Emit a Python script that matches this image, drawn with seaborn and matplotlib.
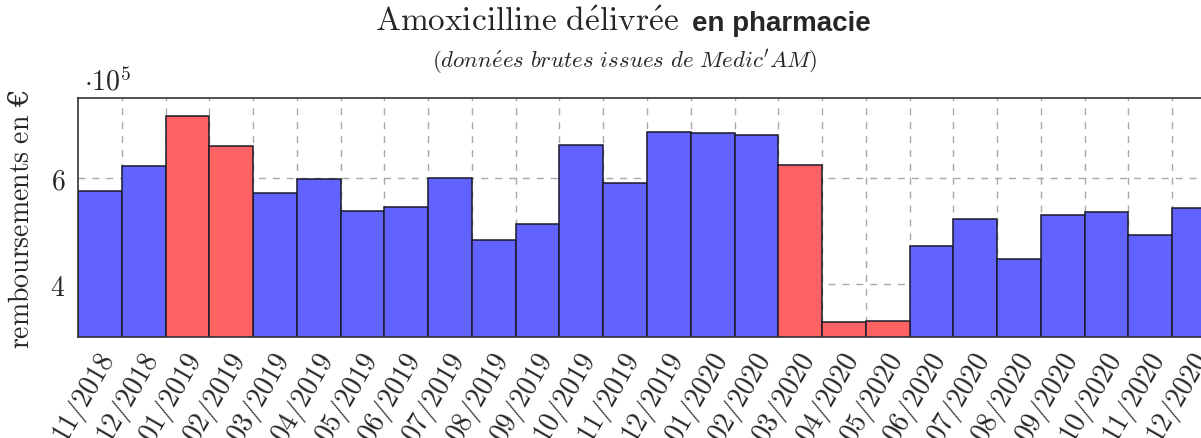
import matplotlib
matplotlib.use("Agg")
import matplotlib.pyplot as plt
import seaborn as sns
import pandas as pd

# Données (remboursements mensuels, en euros)
mois = ["11/2018", "12/2018", "01/2019", "02/2019", "03/2019", "04/2019", "05/2019",
        "06/2019", "07/2019", "08/2019", "09/2019", "10/2019", "11/2019", "12/2019",
        "01/2020", "02/2020", "03/2020", "04/2020", "05/2020", "06/2020", "07/2020",
        "08/2020", "09/2020", "10/2020", "11/2020", "12/2020"]
montants = [5.76e5, 6.22e5, 7.17e5, 6.60e5, 5.72e5, 5.98e5, 5.38e5,
            5.45e5, 5.99e5, 4.83e5, 5.14e5, 6.63e5, 5.90e5, 6.86e5,
            6.84e5, 6.81e5, 6.25e5, 3.29e5, 3.30e5, 4.71e5, 5.23e5,
            4.48e5, 5.31e5, 5.35e5, 4.92e5, 5.43e5]
mois_rouges = ["01/2019", "02/2019", "03/2020", "04/2020", "05/2020"]

df = pd.DataFrame({"mois": mois, "montant": montants})
df["groupe"] = ["rouge" if m in mois_rouges else "bleu" for m in df["mois"]]

sns.set_style("white")
plt.rcParams["mathtext.fontset"] = "cm"

fig = plt.figure(figsize=(12.01, 4.39), dpi=100)
ax = fig.add_axes([78 / 1201, 1 - 338.3 / 439, 1138 / 1201, 239 / 439])

sns.barplot(data=df, x="mois", y="montant", hue="groupe",
            palette={"bleu": "#6262ff", "rouge": "#ff6262"}, saturation=1,
            dodge=False, width=1, edgecolor="#1a1a2a", linewidth=1.1,
            legend=False, ax=ax, zorder=2)

ax.set_xlim(-0.5, len(mois) - 0.5)
ax.set_ylim(3e5, 7.5e5)

# grille pointillée
ax.set_xticks([i + 0.5 for i in range(len(mois) - 1)], minor=True)
ax.grid(True, which="minor", axis="x", linestyle=(0, (5, 5)), color="#a8a8a8", linewidth=1, zorder=0)
ax.grid(True, which="major", axis="y", linestyle=(0, (5, 5)), color="#a8a8a8", linewidth=1, zorder=0)
ax.grid(False, which="major", axis="x")
ax.set_axisbelow(True)

ax.set_yticks([4e5, 6e5])
ax.set_yticklabels(["$4$", "$6$"], fontsize=20)
# étiquettes légèrement décalées à droite du centre des barres
ax.set_xticks([i + 0.22 for i in range(len(mois))])
ax.set_xticklabels(["$" + m + "$" for m in mois], fontsize=20, rotation=60,
                   ha="right", va="center", rotation_mode="anchor")
ax.tick_params(axis="both", which="both", length=0)
ax.tick_params(axis="y", pad=9)
ax.tick_params(axis="x", pad=13)

for s in ax.spines.values():
    s.set_color("#333333")
    s.set_linewidth(1.2)

ax.set_xlabel("")
ax.set_ylabel(r"$\mathrm{remboursements\ en}$ €", family=["DejaVu Serif"],
              fontsize=20, labelpad=11)
ax.text(0.005, 1.01, r"$\cdot 10^5$", transform=ax.transAxes, fontsize=20,
        ha="left", va="bottom")

# titre en deux polices
fig.text(679 / 1201, 1 - 31 / 439, r"$\mathrm{Amoxicilline\ d\acute{e}livr\acute{e}e}$",
         fontsize=24, ha="right", va="baseline")
fig.text(692 / 1201, 1 - 31 / 439, "en pharmacie", family=["Liberation Sans"],
         fontweight="bold", fontsize=20, ha="left", va="baseline")
fig.text(625 / 1201, 1 - 62 / 439, r"$\mathit{(donn\acute{e}es\ brutes\ issues\ de\ Medic'AM)}$",
         fontsize=16.5, ha="center", va="center")

plt.savefig("out.png", dpi=100)
